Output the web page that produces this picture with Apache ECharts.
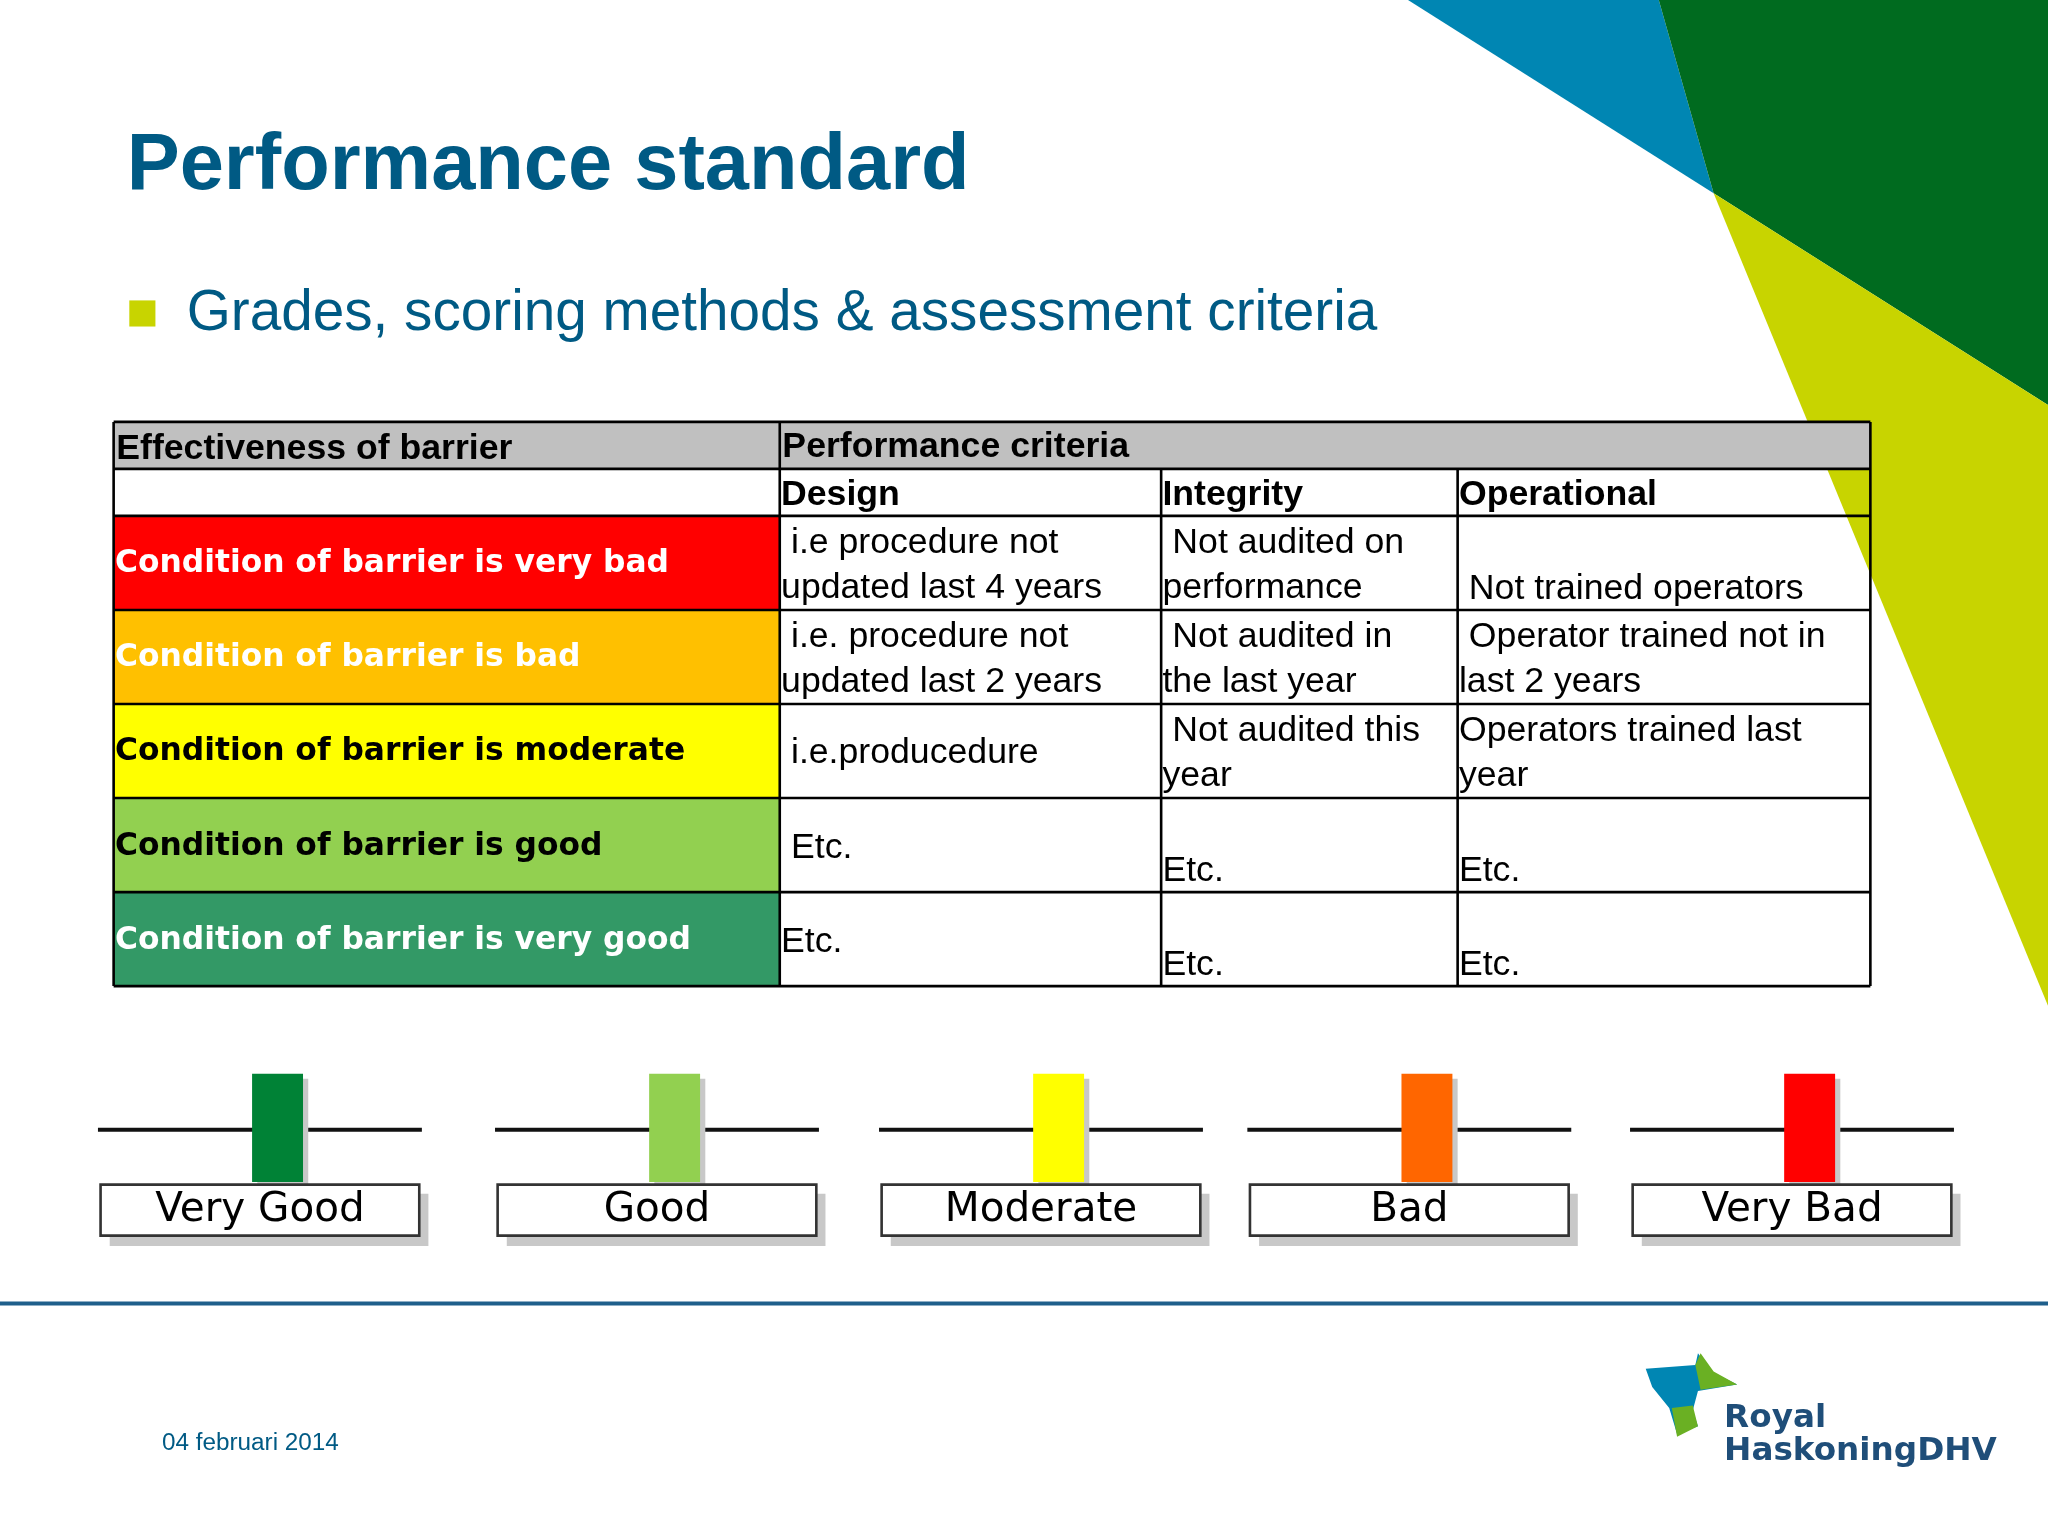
<!DOCTYPE html>
<html><head><meta charset="utf-8">
<script src="https://cdn.jsdelivr.net/npm/echarts@6/dist/echarts.min.js"></script>
<style>html,body{margin:0;padding:0;background:#fff}#c{width:2048px;height:1536px}</style>
</head><body><div id="c"></div>
<script>
const title = 'Performance standard';
const subtitle = 'Grades, scoring methods & assessment criteria';
const headerTop = ['Effectiveness of barrier', 'Performance criteria'];
const criteria = ['Design', 'Integrity', 'Operational'];
const conditions = ['Condition of barrier is very bad','Condition of barrier is bad','Condition of barrier is moderate','Condition of barrier is good','Condition of barrier is very good'];
const conditionColors = ['#ff0000','#ffc000','#ffff00','#92d050','#339966'];
const conditionTextColors = ['#ffffff','#ffffff','#000000','#000000','#ffffff'];
const designTexts = [' i.e procedure not\nupdated last 4 years',' i.e. procedure not\nupdated last 2 years',' i.e.producedure',' Etc.','Etc.'];
const integrityTexts = [' Not audited on\nperformance',' Not audited in\nthe last year',' Not audited this\nyear','Etc.','Etc.'];
const operationalTexts = ['\n Not trained operators',' Operator trained not in\nlast 2 years','Operators trained last\nyear','Etc.','Etc.'];
const cellAlign = [['top','top','bottom'],['top','top','top'],['mid','top','top'],['mid','bottom','bottom'],['mid','bottom','bottom']];
const grades = ['Very Good','Good','Moderate','Bad','Very Bad'];
const gradeColors = ['#008236','#92d050','#ffff00','#ff6600','#ff0000'];
const dateText = '04 februari 2014';

const s = 2048/1568;
const S = v => v*s;
const g = [];
g.push({type:'polygon',shape:{points:[[1078,0],[1270,0],[1312,148]].map(p=>p.map(S))},style:{fill:'#0086b3'}});
g.push({type:'polygon',shape:{points:[[1270,0],[1568,0],[1568,310],[1312,148]].map(p=>p.map(S))},style:{fill:'#006b1f'}});
g.push({type:'polygon',shape:{points:[[1312,148],[1568,310],[1568,770]].map(p=>p.map(S))},style:{fill:'#c8d400'}});
g.push({type:'text',x:S(97),y:S(128),style:{text:title,font:'bold '+S(60.8)+'px "Liberation Sans", Arial',fill:'#005a84',verticalAlign:'middle'}});
g.push({type:'rect',shape:{x:S(99),y:S(230),width:S(20),height:S(20)},style:{fill:'#c8d400'}});
g.push({type:'text',x:S(143),y:S(241),style:{text:subtitle,font:S(43.4)+'px "Liberation Sans", Arial',fill:'#005a84',verticalAlign:'middle'}});
const cx=[87,597,889,1116,1432], ry=[323,359,395,467,539,611,683,755];
const tf = S(27.3)+'px "Liberation Sans", Arial', tfb='bold '+S(27.3)+'px "Liberation Sans", Arial';
const cf = 'bold '+S(24)+'px "DejaVu Sans", Verdana';
g.push({type:'rect',shape:{x:S(87),y:S(323),width:S(1345),height:S(36)},style:{fill:'#c0c0c0'}});
conditions.forEach((c,i)=>{
  g.push({type:'rect',shape:{x:S(87),y:S(ry[i+2]),width:S(510),height:S(72)},style:{fill:conditionColors[i]}});
  g.push({type:'text',x:S(88),y:S(ry[i+2]+37),style:{text:c,font:cf,fill:conditionTextColors[i],verticalAlign:'middle'}});
});
g.push({type:'text',x:S(89),y:S(344),style:{text:headerTop[0],font:tfb,fill:'#000',verticalAlign:'middle'}});
g.push({type:'text',x:S(599),y:S(342),style:{text:headerTop[1],font:tfb,fill:'#000',verticalAlign:'middle'}});
criteria.forEach((c,j)=>g.push({type:'text',x:S(cx[j+1]+1),y:S(379),style:{text:c,font:tfb,fill:'#000',verticalAlign:'middle'}}));
const cols=[designTexts,integrityTexts,operationalTexts];
for(let i=0;i<5;i++)for(let j=0;j<3;j++){
  const a=cellAlign[i][j], top=ry[i+2], bot=ry[i+3];
  let y, va;
  if(a==='top'){y=top+4;va='top';} else if(a==='bottom'){y=bot+1;va='bottom';} else {y=(top+bot)/2+2;va='middle';}
  g.push({type:'text',x:S(cx[j+1]+1),y:S(y),style:{text:cols[j][i],font:tf,fill:'#000',verticalAlign:va,lineHeight:S(34)}});
}
const lw=S(2);
ry.forEach(y=>g.push({type:'line',shape:{x1:S(87),y1:S(y),x2:S(1432),y2:S(y)},style:{stroke:'#000',lineWidth:lw}}));
g.push({type:'line',shape:{x1:S(87),y1:S(323),x2:S(87),y2:S(755)},style:{stroke:'#000',lineWidth:lw}});
g.push({type:'line',shape:{x1:S(597),y1:S(323),x2:S(597),y2:S(755)},style:{stroke:'#000',lineWidth:lw}});
g.push({type:'line',shape:{x1:S(889),y1:S(359),x2:S(889),y2:S(755)},style:{stroke:'#000',lineWidth:lw}});
g.push({type:'line',shape:{x1:S(1116),y1:S(359),x2:S(1116),y2:S(755)},style:{stroke:'#000',lineWidth:lw}});
g.push({type:'line',shape:{x1:S(1432),y1:S(323),x2:S(1432),y2:S(755)},style:{stroke:'#000',lineWidth:lw}});
const gx=[75,379,673,955,1248];
grades.forEach((t,i)=>{
  const x=gx[i];
  g.push({type:'line',shape:{x1:S(x),y1:S(865),x2:S(x+248),y2:S(865)},style:{stroke:'#111',lineWidth:S(3)}});
  g.push({type:'rect',shape:{x:S(x+122),y:S(826),width:S(39),height:S(82)},style:{fill:'#c8c8c8'}});
  g.push({type:'rect',shape:{x:S(x+118),y:S(822),width:S(39),height:S(83)},style:{fill:gradeColors[i]}});
  g.push({type:'rect',shape:{x:S(x+9),y:S(914),width:S(244),height:S(40)},style:{fill:'#c8c8c8'}});
  g.push({type:'rect',shape:{x:S(x+2),y:S(907),width:S(244),height:S(39)},style:{fill:'#fff',stroke:'#333',lineWidth:S(2)}});
  g.push({type:'text',x:S(x+124),y:S(927),style:{text:t,font:S(31)+'px "DejaVu Sans", Verdana',fill:'#000',align:'center',verticalAlign:'middle'}});
});
g.push({type:'line',shape:{x1:0,y1:S(998),x2:2048,y2:S(998)},style:{stroke:'#1f5f8b',lineWidth:S(3)}});
g.push({type:'text',x:S(124),y:S(1105),style:{text:dateText,font:S(18.6)+'px "Liberation Sans", Arial',fill:'#005a84',verticalAlign:'middle'}});
g.push({type:'polygon',shape:{points:[[1260,1048],[1298,1045],[1300,1036],[1310,1050],[1330,1060],[1300,1065],[1296,1080],[1300,1092],[1284,1098],[1278,1078],[1265,1062]].map(p=>p.map(S))},style:{fill:'#0086b3'}});
g.push({type:'polygon',shape:{points:[[1298,1045],[1302,1036],[1312,1050],[1330,1060],[1302,1064]].map(p=>p.map(S))},style:{fill:'#6ab023'}});
g.push({type:'polygon',shape:{points:[[1280,1078],[1296,1076],[1300,1092],[1284,1100]].map(p=>p.map(S))},style:{fill:'#6ab023'}});
g.push({type:'text',x:S(1320),y:S(1086),style:{text:'Royal',font:'bold '+S(25)+'px "DejaVu Sans", Verdana',fill:'#1f4e79',verticalAlign:'middle'}});
g.push({type:'text',x:S(1320),y:S(1111),style:{text:'HaskoningDHV',font:'bold '+S(25)+'px "DejaVu Sans", Verdana',fill:'#1f4e79',verticalAlign:'middle'}});

const chart = echarts.init(document.getElementById('c'));
chart.setOption({animation:false,backgroundColor:'#fff',graphic:g});
</script></body></html>
